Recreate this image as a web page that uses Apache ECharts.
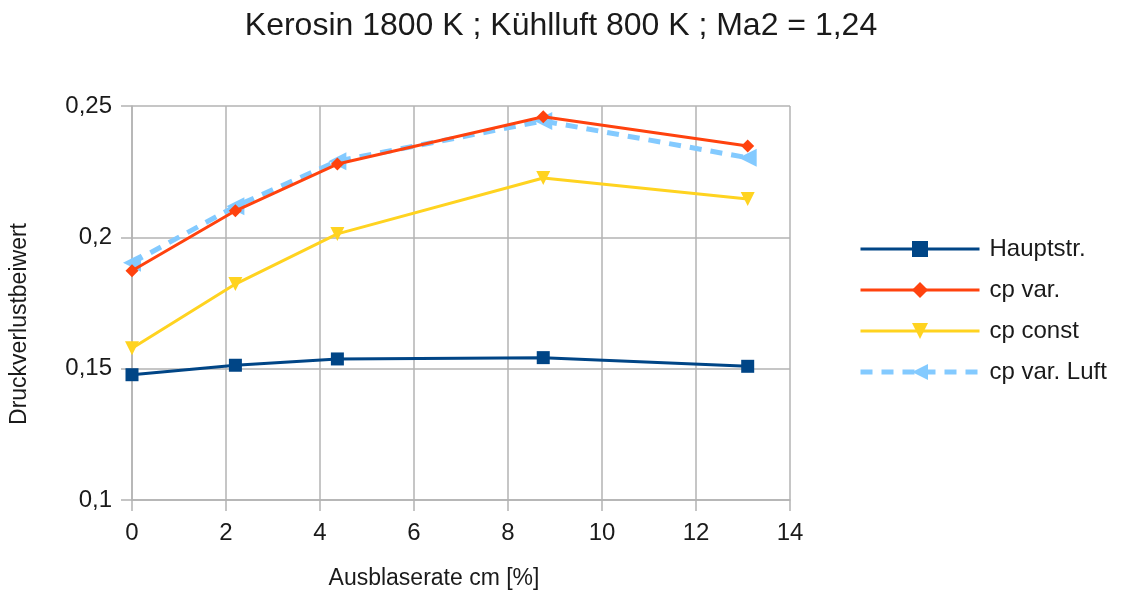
<!DOCTYPE html>
<html><head><meta charset="utf-8">
<script src="https://cdn.jsdelivr.net/npm/echarts@6/dist/echarts.min.js"></script>
<style>html,body{margin:0;padding:0;background:#fff}#c{width:1121px;height:595px}</style>
</head><body><div id="c"></div>
<script>
const xValues = [0, 2.2, 4.37, 8.75, 13.1];
const hauptstr = [0.1477, 0.1513, 0.1537, 0.1542, 0.1509];
const cpVar = [0.1873, 0.2101, 0.2279, 0.2459, 0.2348];
const cpConst = [0.1578, 0.1822, 0.2013, 0.2226, 0.2146];
const cpVarLuft = [0.1903, 0.2118, 0.2290, 0.2443, 0.2303];
const seriesNames = ['Hauptstr.', 'cp var.', 'cp const', 'cp var. Luft'];

const pts = arr => arr.map((v, i) => [xValues[i], v]);
const FONT = 'Liberation Sans';
const TXT = '#1a1a1a';
const GRID = '#b3b3b3';
const chart = echarts.init(document.getElementById('c'), null, {renderer: 'canvas'});
chart.setOption({
  animation: false,
  textStyle: {fontFamily: FONT},
  title: {
    text: 'Kerosin 1800 K ; Kühlluft 800 K ; Ma2 = 1,24',
    left: 556, top: 5, textAlign: 'center',
    textStyle: {fontFamily: FONT, fontSize: 32, fontWeight: 'normal', color: TXT}
  },
  grid: {left: 132, right: 331, top: 106, bottom: 95, containLabel: false},
  legend: {
    orient: 'vertical', left: 853, top: 232,
    itemWidth: 119, itemHeight: 20, itemGap: 17,
    lineStyle: {width: 'inherit'},
    textStyle: {fontFamily: FONT, fontSize: 24, color: TXT, padding: [0, 0, 0, 5]},
    data: seriesNames
  },
  xAxis: {
    type: 'value', min: 0, max: 14, interval: 2,
    name: 'Ausblaserate cm [%]', nameLocation: 'middle', nameGap: 67,
    nameTextStyle: {fontFamily: FONT, fontSize: 23, color: TXT, padding: [0, 54, 0, 0]},
    axisLine: {show: true, lineStyle: {color: GRID, width: 1.5}},
    axisTick: {show: true, length: 11, lineStyle: {color: GRID, width: 1.5}},
    axisLabel: {fontFamily: FONT, fontSize: 24, color: TXT, margin: 21},
    splitLine: {show: true, lineStyle: {color: GRID, width: 1.5}}
  },
  yAxis: {
    type: 'value', min: 0.1, max: 0.25, interval: 0.05,
    name: 'Druckverlustbeiwert', nameLocation: 'middle', nameGap: 101, nameRotate: 90,
    nameTextStyle: {fontFamily: FONT, fontSize: 23, color: TXT, padding: [0, 42, 0, 0]},
    axisLine: {show: true, lineStyle: {color: GRID, width: 1.5}},
    axisTick: {show: true, length: 11, lineStyle: {color: GRID, width: 1.5}},
    axisLabel: {fontFamily: FONT, fontSize: 24, color: TXT, margin: 20,
      formatter: v => String(+v.toFixed(2)).replace('.', ',')},
    splitLine: {show: true, lineStyle: {color: GRID, width: 1.5}}
  },
  series: [
    {name: seriesNames[0], type: 'line', data: pts(hauptstr), symbol: 'rect', symbolSize: 13,
     itemStyle: {color: '#004586'}, lineStyle: {color: '#004586', width: 3}},
    {name: seriesNames[1], type: 'line', data: pts(cpVar), symbol: 'diamond', symbolSize: 13,
     itemStyle: {color: '#ff420e'}, lineStyle: {color: '#ff420e', width: 3}},
    {name: seriesNames[2], type: 'line', data: pts(cpConst), symbol: 'triangle', symbolRotate: 180, symbolSize: 14,
     itemStyle: {color: '#ffd320'}, lineStyle: {color: '#ffd320', width: 3}},
    {name: seriesNames[3], type: 'line', data: pts(cpVarLuft), symbol: 'triangle', symbolRotate: 90, symbolSize: 18,
     itemStyle: {color: '#83caff'}, lineStyle: {color: '#83caff', width: 5, type: [12, 9]}, z: 1}
  ]
});
</script></body></html>
